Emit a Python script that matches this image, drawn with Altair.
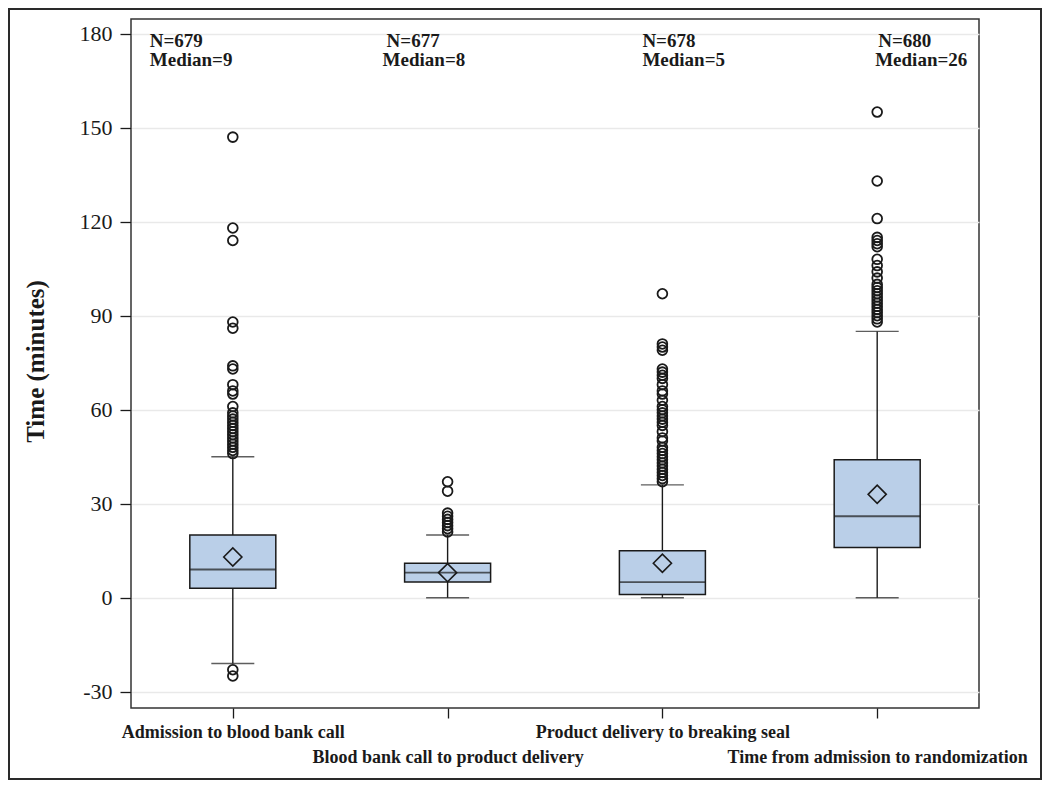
import altair as alt
import pandas as pd

# ---------------- data ----------------
CATEGORIES = [
    "Admission to blood bank call",
    "Blood bank call to product delivery",
    "Product delivery to breaking seal",
    "Time from admission to randomization",
]
N_VALUES = [679, 677, 678, 680]
MEDIANS = [9, 8, 5, 26]
MEANS = [13, 8, 11, 33]
Q1 = [3, 5, 1, 16]
Q3 = [20, 11, 15, 44]
LOWER_WHISKER = [-21, 0, 0, 0]
UPPER_WHISKER = [45, 20, 36, 85]

OUTLIERS_1 = [147, 118, 114, 88, 86, 74, 73, 68, 66, 65, 61, 59, 58, 57, 56, 55,
              54, 53, 52, 51, 50, 49, 48, 47, 46, -23, -25]
OUTLIERS_2 = [37, 34, 27, 26, 25, 24, 23, 22, 21]
OUTLIERS_3 = [97, 81, 80, 79, 73, 72, 71, 70, 68, 66, 65, 63, 61, 60, 59, 58, 57,
              56, 55, 53, 51, 50, 48, 47, 46, 45, 44, 43, 42, 41, 40, 39, 38, 37]
OUTLIERS_4 = [155, 133, 121, 115, 114, 113, 112, 108, 106, 104, 102, 100, 99, 98,
              97, 96, 95, 94, 93, 92, 91, 90, 89, 88]
OUTLIERS = [OUTLIERS_1, OUTLIERS_2, OUTLIERS_3, OUTLIERS_4]

Y_TICKS = [-30, 0, 30, 60, 90, 120, 150, 180]

# ---------------- styles ----------------
FONT = "Liberation Serif"
BOX_FILL = "#bacfe8"
INK = "#1a1a1a"
W, H = 848, 689
BOX_W = 86
CAP_W = 43
N_DX = [-83, -61, -20, 1]
MED_DX = [-83, -65, -20, -2]

stats = pd.DataFrame({
    "cat": CATEGORIES, "n": N_VALUES, "med": MEDIANS, "mean": MEANS,
    "q1": Q1, "q3": Q3, "lw": LOWER_WHISKER, "uw": UPPER_WHISKER,
})
out_df = pd.DataFrame(
    [{"cat": c, "v": v} for c, vals in zip(CATEGORIES, OUTLIERS) for v in vals]
)

xscale = alt.Scale(type="point", domain=CATEGORIES, padding=0.474)
odd = [CATEGORIES[i] for i in range(len(CATEGORIES)) if i % 2 == 1]
label_expr = (
    "indexof([" + ",".join("'" + c + "'" for c in odd) + "], datum.value) >= 0"
    " ? ['', datum.value] : datum.value"
)
xaxis = alt.Axis(
    title=None, domain=False, grid=False, ticks=True, tickSize=10, tickWidth=1.3,
    tickColor=INK, labelFont=FONT, labelFontWeight="bold", labelFontSize=18,
    labelColor=INK, labelPadding=5, labelLineHeight=25, labelOverlap=False,
    labelLimit=0, labelAngle=0, labelExpr=label_expr,
)
yscale = alt.Scale(domain=[-35.2, 184.7], nice=False, zero=False)
yaxis = alt.Axis(
    title="Time (minutes)", values=Y_TICKS, domain=False, grid=True,
    gridColor="#e9e9e9", gridWidth=1.5, tickSize=11, tickWidth=1.3,
    tickColor=INK, labelFont=FONT, labelFontSize=22, labelColor=INK,
    labelPadding=8, labelExpr="datum.value + ''",
    titleFont=FONT, titleFontSize=25, titleFontWeight="bold",
    titleColor=INK, titleX=-96, titleY=342, titleAngle=270,
    titleBaseline="middle", titleAlign="center",
)


def X():
    return alt.X("cat:N", scale=xscale, axis=xaxis)


def Y(field):
    return alt.Y(field + ":Q", scale=yscale, axis=yaxis)


base = alt.Chart(stats)

whisk_hi = base.mark_rule(color=INK, strokeWidth=1.4).encode(
    x=X(), y=Y("q3"), y2="uw")
whisk_lo = base.mark_rule(color=INK, strokeWidth=1.4).encode(
    x=X(), y=Y("lw"), y2="q1")
box = base.mark_bar(size=BOX_W, fill=BOX_FILL, stroke=INK, strokeWidth=1.5).encode(
    x=X(), y=Y("q1"), y2="q3")
median = base.mark_tick(size=BOX_W, thickness=1.8, color=INK).encode(
    x=X(), y=Y("med"))
cap_hi = base.mark_tick(size=CAP_W, thickness=1.4, color=INK).encode(
    x=X(), y=Y("uw"))
cap_lo = base.mark_tick(size=CAP_W, thickness=1.4, color=INK).encode(
    x=X(), y=Y("lw"))
mean = base.mark_point(shape="diamond", size=330, filled=False, color=INK,
                       strokeWidth=1.6, opacity=1).encode(x=X(), y=Y("mean"))
outl = alt.Chart(out_df).mark_point(shape="circle", size=95, filled=False,
                                    color=INK, strokeWidth=1.8, opacity=1).encode(
    x=X(), y=Y("v"))

ann_layers = []
for i, c in enumerate(CATEGORIES):
    sub = base.transform_filter(alt.datum.cat == c)
    ann_layers.append(
        sub.transform_calculate(t="'N=' + datum.n").mark_text(
            align="left", baseline="middle", dx=N_DX[i], font=FONT,
            fontSize=19, fontWeight="bold", color=INK,
        ).encode(x=X(), y=alt.value(22), text="t:N")
    )
    ann_layers.append(
        sub.transform_calculate(t="'Median=' + datum.med").mark_text(
            align="left", baseline="middle", dx=MED_DX[i], font=FONT,
            fontSize=19, fontWeight="bold", color=INK,
        ).encode(x=X(), y=alt.value(41), text="t:N")
    )

border = alt.Chart(alt.Data(values=[{}])).mark_rect(
    fill="transparent", stroke="#2a2a2a", strokeWidth=2
).encode(x=alt.value(-122), x2=alt.value(910), y=alt.value(-10), y2=alt.value(760))

chart = alt.layer(
    whisk_hi, whisk_lo, box, median, mean, cap_hi, cap_lo, outl, *ann_layers, border
).properties(
    width=W, height=H,
    autosize=alt.AutoSizeParams(type="none"),
    padding={"left": 123, "top": 11, "right": 63, "bottom": 72},
    background="white",
).configure_view(stroke="#333333", strokeWidth=1.5)

chart.save("out.html", embed_options={"renderer": "svg", "actions": False})
